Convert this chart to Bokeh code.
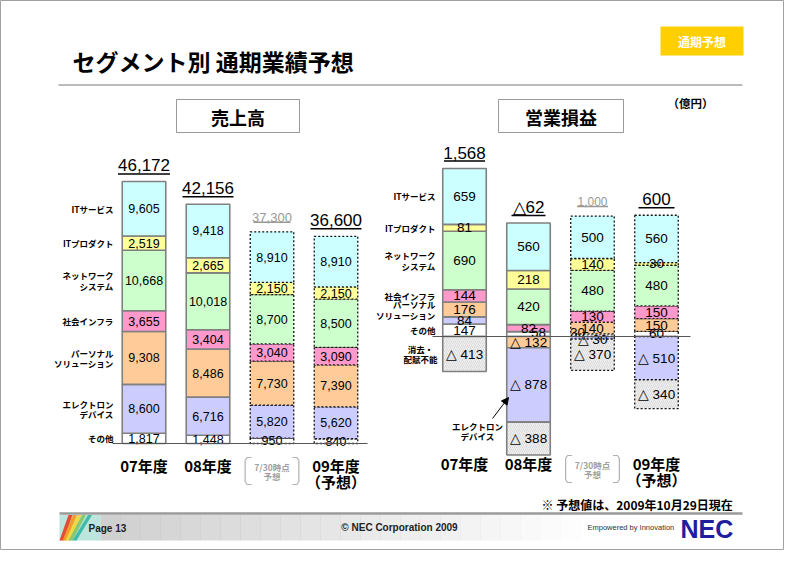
from bokeh.plotting import figure
from bokeh.models import Range1d, ColumnDataSource, Arrow, NormalHead
from bokeh.core.properties import value
from bokeh.embed import file_html
from bokeh.resources import INLINE

# ---------------- data ----------------
periods = ["07年度", "08年度", "7/30時点予想", "09年度（予想）"]
is_forecast = [False, False, True, True]

seg_keys = ["its", "itp", "net", "soc", "per", "ele", "oth", "elim"]
seg_names = {
    "its": "ITサービス", "itp": "ITプロダクト", "net": "ネットワーク\nシステム",
    "soc": "社会インフラ", "per": "パーソナル\nソリューション",
    "ele": "エレクトロン\nデバイス", "oth": "その他", "elim": "消去・\n配賦不能",
}

# 売上高 (億円)
sales_it_services = [9605, 9418, 8910, 8910]
sales_it_products = [2519, 2665, 2150, 2150]
sales_network = [10668, 10018, 8700, 8500]
sales_social = [3655, 3404, 3040, 3090]
sales_personal = [9308, 8486, 7730, 7390]
sales_electron = [8600, 6716, 5820, 5620]
sales_other = [1817, 1448, 950, 840]
sales_totals = [46172, 42156, 37300, 36600]

# 営業損益 (億円)
op_it_services = [659, 560, 500, 560]
op_it_products = [81, 218, 140, 30]
op_network = [690, 420, 480, 480]
op_social = [144, 82, 130, 150]
op_personal = [176, -132, 140, 150]
op_electron = [84, -878, -30, -510]
op_other = [147, 58, 30, 60]
op_elimination = [-413, -388, -370, -340]
op_totals = [1568, -62, 1000, 600]

sales = {"its": sales_it_services, "itp": sales_it_products, "net": sales_network,
         "soc": sales_social, "per": sales_personal, "ele": sales_electron, "oth": sales_other}
op = {"its": op_it_services, "itp": op_it_products, "net": op_network, "soc": op_social,
      "per": op_personal, "ele": op_electron, "oth": op_other, "elim": op_elimination}

# ---------------- style ----------------
COLORS = {"its": "#CCFFFF", "itp": "#FFFF99", "net": "#CCFFCC", "soc": "#FF99CC",
          "per": "#FFCC99", "ele": "#CCCCFF", "oth": "#FFFFFF", "elim": "#F0F0F0"}
POS_ORDER = ["oth", "ele", "per", "soc", "net", "itp", "its"]
NEG_ORDER = ["its", "itp", "net", "soc", "per", "ele", "oth", "elim"]
JP = value("Noto Sans CJK JP")
NUM = value("Liberation Sans")

W, H = 784, 550
K_S, Y0_S = 0.005675, 443.0    # px per 億円, zero line px (sales)
K_O, Y0_O = 0.0848, 336.0      # px per 億円, zero line px (op)
STEP = 64.0
X0_S, X0_O = 143.5, 464.0
BAR_W = 0.68

p = figure(width=W, height=H, x_range=Range1d(0, W), y_range=Range1d(H, 0),
           x_axis_type=None, y_axis_type=None, output_backend="svg",
           toolbar_location=None, min_border=0, outline_line_color="#A0A0A0",
           background_fill_color="white")
p.grid.visible = False

p.extra_y_ranges = {
    "sy": Range1d(-(H - Y0_S) / K_S, -(H - Y0_S) / K_S + H / K_S),
    "oy": Range1d(-(H - Y0_O) / K_O, -(H - Y0_O) / K_O + H / K_O),
}
p.extra_x_ranges = {
    "sx": Range1d(-X0_S / STEP, -X0_S / STEP + W / STEP),
    "ox": Range1d(-X0_O / STEP, -X0_O / STEP + W / STEP),
}


def stack(series):
    out = []
    for i in range(len(periods)):
        pos, neg = 0.0, 0.0
        for k in POS_ORDER:
            v = series.get(k, [0] * 4)[i]
            if v > 0:
                out.append((i, k, pos, pos + v, v))
                pos += v
        for k in NEG_ORDER:
            v = series.get(k, [0] * 4)[i]
            if v < 0:
                out.append((i, k, neg + v, neg, v))
                neg += v
    return out


def fmt(v):
    return f"{v:,}" if v >= 0 else f"△ {abs(v):,}"


LABEL_SHIFT = {("o", "oth", 1): (10, -2), ("o", "oth", 2): (-15, -3), ("o", "ele", 2): (0, 2)}


def draw_chart(series, totals, tag, xr, yr, K, label_size, total_sizes, underline_px):
    segs = stack(series)
    for fc in (False, True):
        rows = [s for s in segs if is_forecast[s[0]] == fc]
        src = ColumnDataSource(dict(
            x=[s[0] for s in rows], bottom=[s[2] for s in rows], top=[s[3] for s in rows],
            color=[COLORS[s[1]] for s in rows],
            hatch=["/" if s[1] == "elim" else " " for s in rows]))
        p.vbar(x="x", bottom="bottom", top="top", width=BAR_W, source=src,
               fill_color="color", hatch_pattern="hatch", hatch_color="#C4C4C4",
               hatch_scale=4, hatch_weight=0.5,
               line_color="#111111" if fc else "#808080",
               line_width=1.3 if fc else 1.6, line_dash="2 2" if fc else "solid",
               x_range_name=xr, y_range_name=yr)
    # value labels
    lx, ly, lt, xo, yo = [], [], [], [], []
    for i, k, b, t, v in segs:
        dx, dy = LABEL_SHIFT.get((tag, k, i), (0, 0))
        lx.append(i); ly.append((b + t) / 2); lt.append(fmt(v)); xo.append(dx); yo.append(dy)
    p.text(x="x", y="y", text="t", x_offset="xo", y_offset="yo",
           source=ColumnDataSource(dict(x=lx, y=ly, t=lt, xo=xo, yo=yo)),
           text_font=NUM, text_font_size=label_size, text_align="center",
           text_baseline="middle", text_color="black", x_range_name=xr, y_range_name=yr)
    # totals with underline
    for i, tot in enumerate(totals):
        top = sum(series[k][i] for k in series if series[k][i] > 0)
        gray = i == 2
        col = "#999999" if gray else "black"
        size = total_sizes[1] if gray else total_sizes[0]
        txt = f"{tot:,}" if tot >= 0 else f"△{abs(tot):,}"
        p.text(x=[i], y=[top], text=[txt], y_offset=-14.5 if gray else -16,
               text_font=NUM, text_font_size=size, text_align="center",
               text_baseline="middle", text_color=col, x_range_name=xr, y_range_name=yr)
        hw = underline_px[i] / 2 / STEP
        uy = top + (9.5 if gray else 7.5) / K
        p.segment(x0=[i - hw], x1=[i + hw], y0=[uy], y1=[uy], line_color=col,
                  line_width=1.5, x_range_name=xr, y_range_name=yr)
    return segs


sales_segs = draw_chart(sales, sales_totals, "s", "sx", "sy", K_S, "12.5px",
                        ("17px", "13px"), [52, 51, 37, 51])
op_segs = draw_chart(op, op_totals, "o", "ox", "oy", K_O, "13.5px",
                     ("17px", "12px"), [41, 34, 31, 36])

# zero / base lines
p.segment(x0=[112], x1=[367], y0=[0], y1=[0], y_range_name="sy", line_color="#555555", line_width=1.2)
p.segment(x0=[432], x1=[690], y0=[0], y1=[0], y_range_name="oy", line_color="#555555", line_width=1.2)


# segment names on the left (aligned to 07 bar segments)
def side_labels(segs, keys, x_px, yr):
    xs, ys, ts, yo = [], [], [], []
    for i, k, b, t, v in segs:
        if i == 0 and k in keys:
            lines = seg_names[k].split("\n")
            for j, ln in enumerate(lines):
                xs.append(x_px); ys.append((b + t) / 2); ts.append(ln)
                yo.append((j - (len(lines) - 1) / 2) * 10.5)
    p.text(x="x", y="y", text="t", y_offset="yo",
           source=ColumnDataSource(dict(x=xs, y=ys, t=ts, yo=yo)),
           text_font=JP, text_font_size="8.5px", text_font_style="bold",
           text_align="right", text_baseline="middle", text_color="black", y_range_name=yr)


side_labels(sales_segs, ["its", "itp", "net", "soc", "per", "ele", "oth"], 113, "sy")
side_labels(op_segs, ["its", "itp", "net", "soc", "per", "oth"], 435, "oy")
# elimination label (centered)
for j, ln in enumerate(seg_names["elim"].split("\n")):
    p.text(x=[420], y=[-413 / 2], y_offset=(j - 0.5) * 10.5, text=[ln], text_font=JP,
           text_font_size="8.5px", text_font_style="bold", text_align="center",
           text_baseline="middle", y_range_name="oy")

# electron device annotation with arrow
for j, ln in enumerate(seg_names["ele"].split("\n")):
    p.text(x=[477], y=[425 + 10 * j], text=[ln], text_font=JP, text_font_size="8.5px",
           text_font_style="bold", text_align="center", text_baseline="middle")
p.add_layout(Arrow(end=NormalHead(size=7, fill_color="black", line_color="black"),
                   x_start=492, y_start=418, x_end=508, y_end=397, line_width=1, line_color="black"))

# period labels
for xr, ytop in (("sx", 465), ("ox", 463)):
    for i, name in enumerate(periods):
        if i == 2:
            for j, ln in enumerate(["7/30時点", "予想"]):
                p.text(x=[i], y=[ytop + 1 + 9.5 * j], text=[ln], text_font=JP, text_font_size="8.5px",
                       text_font_style="bold", text_align="center", text_baseline="middle",
                       text_color="#A0A0A0", x_range_name=xr)
            hw, b0, b1 = 0.42, ytop - 8, ytop + 19
            p.multi_line(xs=[[i - hw + 0.1, i - hw + 0.03, i - hw, i - hw, i - hw + 0.03, i - hw + 0.1],
                             [i + hw - 0.1, i + hw - 0.03, i + hw, i + hw, i + hw - 0.03, i + hw - 0.1]],
                         ys=[[b0, b0, b0 + 3, b1 - 3, b1, b1], [b0, b0, b0 + 3, b1 - 3, b1, b1]],
                         line_color="#B0B0B0", line_width=1.2, x_range_name=xr)
        elif i == 3:
            p.text(x=[i], y=[ytop], text=["09年度"], text_font=JP, text_font_size="15px",
                   text_font_style="bold", text_align="center", text_baseline="middle", x_range_name=xr)
            p.text(x=[i], y=[ytop + 16], text=["（予想）"], text_font=JP, text_font_size="15px",
                   text_font_style="bold", text_align="center", text_baseline="middle", x_range_name=xr)
        else:
            p.text(x=[i], y=[ytop], text=[name], text_font=JP, text_font_size="15px",
                   text_font_style="bold", text_align="center", text_baseline="middle", x_range_name=xr)

# ---------------- slide decoration ----------------
p.text(x=[72], y=[60], text=["セグメント別 通期業績予想"], text_font=JP, text_font_size="23px",
       text_font_style="bold", text_align="left", text_baseline="middle")
p.segment(x0=[58], x1=[742], y0=[84.5], y1=[84.5], line_color="#BBBBBB", line_width=2)
p.quad(left=[660], right=[743], top=[26], bottom=[55], fill_color="#FFCF00", line_color=None)
p.text(x=[701.5], y=[41], text=["通期予想"], text_font=JP, text_font_size="12px",
       text_font_style="bold", text_align="center", text_baseline="middle", text_color="white")
p.quad(left=[176, 498], right=[299, 623], top=[99, 99], bottom=[132, 132],
       fill_color="white", line_color="#999999", line_width=1)
p.text(x=[237.5, 560.5], y=[116, 116], text=["売上高", "営業損益"], text_font=JP,
       text_font_size="18px", text_font_style="bold", text_align="center", text_baseline="middle")
p.text(x=[690], y=[102], text=["（億円）"], text_font=JP, text_font_size="11.5px",
       text_font_style="bold", text_align="center", text_baseline="middle")

# footer
p.text(x=[541], y=[504], text=["※ 予想値は、2009年10月29日現在"], text_font=JP, text_font_size="12px",
       text_font_style="bold", text_align="left", text_baseline="middle")
p.segment(x0=[59], x1=[742], y0=[513], y1=[513], line_color="#9A9A9A", line_width=2.5)
n = 24
for j in range(n):
    x0 = 100 + j * (480 / n)
    p.quad(left=[x0], right=[x0 + 480 / n + 0.5], top=[514.5], bottom=[540],
           fill_color="#C8C8C8", fill_alpha=max(0.0, 0.85 * (1 - j / n)), line_color=None)
p.quad(left=[59], right=[100], top=[514.5], bottom=[540], fill_color="#8FD3C8", fill_alpha=0.6, line_color=None)
stripes = [("#E5452B", 0), ("#F49A25", 3), ("#F2D73A", 6), ("#86C66B", 9), ("#37B8A8", 13)]
for c, d in stripes:
    p.patch(x=[59 + d, 63 + d, 72 + d * 1.5, 68 + d * 1.5], y=[540, 540, 514.5, 514.5],
            fill_color=c, line_color=None, fill_alpha=0.95)
p.text(x=[88], y=[528], text=["Page 13"], text_font=NUM, text_font_size="10px",
       text_font_style="bold", text_align="left", text_baseline="middle", text_color="#222222")
p.text(x=[399], y=[527], text=["© NEC Corporation 2009"], text_font=NUM, text_font_size="10px",
       text_font_style="bold", text_align="center", text_baseline="middle", text_color="#222222")
p.text(x=[587], y=[527], text=["Empowered by Innovation"], text_font=NUM, text_font_size="7.5px",
       text_align="left", text_baseline="middle", text_color="#333333")
p.text(x=[680], y=[528], text=["NEC"], text_font=NUM, text_font_size="25px",
       text_font_style="bold", text_align="left", text_baseline="middle", text_color="#1E1E9E")

open("out.html", "w").write(file_html(p, INLINE))
